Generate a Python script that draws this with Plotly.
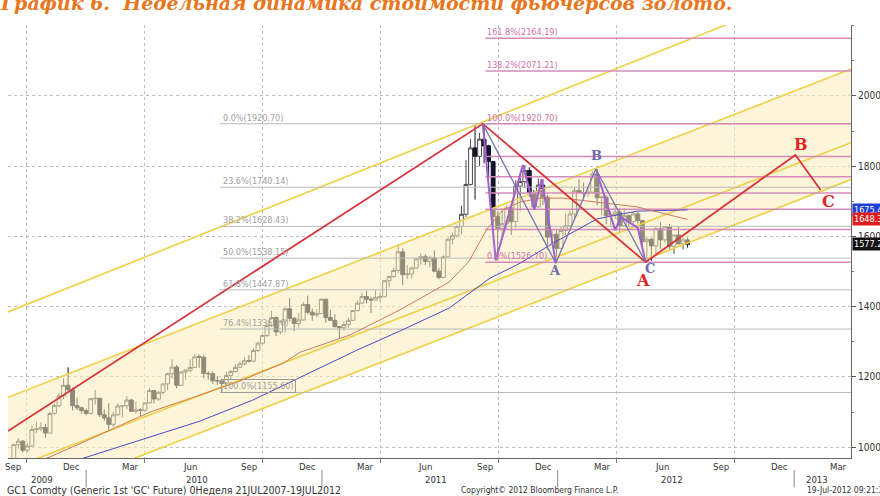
import pandas as pd
import plotly.graph_objects as go

# ---------------- data ----------------
week_dates = pd.date_range('2009-09-11', periods=150, freq='W-FRI')

opens = [955, 1007, 1017, 991, 1003, 1050, 1052, 1056, 1040, 1096, 1118, 1146, 1176, 1163, 1118, 1112, 1104,
         1096, 1138, 1139, 1092, 1083, 1065, 1092, 1117, 1118, 1134, 1102, 1106, 1105, 1126, 1161, 1137, 1156,
         1180, 1209, 1228, 1176, 1214, 1219, 1227, 1257, 1256, 1210, 1209, 1189, 1189, 1181, 1204, 1215, 1227,
         1237, 1246, 1245, 1275, 1296, 1318, 1346, 1369, 1328, 1359, 1394, 1367, 1352, 1362, 1406, 1384, 1376,
         1380, 1421, 1369, 1361, 1343, 1340, 1349, 1361, 1389, 1410, 1429, 1421, 1419, 1427, 1428, 1474, 1486,
         1503, 1556, 1491, 1493, 1510, 1536, 1542, 1529, 1539, 1501, 1483, 1542, 1592, 1602, 1628, 1663, 1748,
         1852, 1828, 1877, 1858, 1813, 1657, 1623, 1636, 1681, 1642, 1743, 1756, 1788, 1725, 1684, 1746, 1712,
         1598, 1606, 1566, 1617, 1630, 1664, 1731, 1725, 1722, 1726, 1778, 1710, 1712, 1659, 1662, 1669, 1630,
         1659, 1642, 1664, 1645, 1585, 1592, 1573, 1622, 1590, 1628, 1572, 1604, 1579, 1590]
highs = [1010, 1025, 1020, 1012, 1062, 1072, 1070, 1066, 1100, 1124, 1153, 1196, 1227, 1170, 1141, 1115, 1110,
         1139, 1163, 1140, 1108, 1125, 1100, 1125, 1119, 1145, 1137, 1130, 1111, 1127, 1168, 1162, 1160, 1180,
         1212, 1250, 1234, 1217, 1221, 1250, 1265, 1263, 1262, 1216, 1215, 1202, 1190, 1215, 1220, 1236, 1244,
         1256, 1262, 1281, 1300, 1321, 1350, 1388, 1372, 1361, 1398, 1424, 1369, 1381, 1414, 1432, 1395, 1392,
         1424, 1423, 1391, 1378, 1345, 1359, 1369, 1390, 1417, 1440, 1445, 1428, 1447, 1440, 1475, 1488, 1511,
         1577, 1566, 1519, 1514, 1539, 1552, 1549, 1545, 1560, 1510, 1546, 1595, 1611, 1633, 1687, 1817, 1877,
         1917, 1895, 1920.7, 1861, 1815, 1671, 1680, 1689, 1686, 1760, 1766, 1803, 1797, 1732, 1765, 1763, 1718,
         1620, 1618, 1628, 1665, 1674, 1740, 1763, 1753, 1744, 1786, 1792, 1716, 1718, 1672, 1687, 1680, 1680,
         1662, 1671, 1670, 1647, 1598, 1596, 1626, 1640, 1628, 1635, 1605, 1628, 1597, 1597]
lows = [950, 995, 985, 985, 1000, 1040, 1045, 1026, 1040, 1091, 1113, 1137, 1160, 1104, 1105, 1095, 1090,
        1093, 1121, 1086, 1075, 1044, 1057, 1088, 1085, 1108, 1101, 1095, 1086, 1102, 1124, 1124, 1132, 1150,
        1162, 1195, 1167, 1175, 1192, 1213, 1225, 1226, 1196, 1192, 1180, 1177, 1155.6, 1175, 1192, 1213, 1225,
        1233, 1241, 1242, 1271, 1291, 1313, 1342, 1316, 1321, 1326, 1358, 1330, 1341, 1360, 1378, 1360, 1370,
        1379, 1354, 1363, 1341, 1309, 1331, 1340, 1359, 1386, 1407, 1409, 1382, 1418, 1413, 1427, 1455, 1482,
        1495, 1462, 1478, 1480, 1507, 1520, 1519, 1512, 1498, 1478, 1480, 1541, 1577, 1597, 1605, 1655, 1745,
        1705, 1800, 1808, 1763, 1626, 1532, 1590, 1617, 1604, 1624, 1672, 1737, 1712, 1676, 1682, 1689, 1562,
        1585, 1523.9, 1565, 1603, 1627, 1653, 1723, 1710, 1713, 1725, 1688, 1660, 1635, 1627, 1650, 1612, 1628,
        1627, 1636, 1636, 1572, 1526.7, 1531, 1546, 1565, 1582, 1562, 1550, 1576, 1563, 1568]
closes = [1007, 1017, 991, 1003, 1050, 1052, 1056, 1040, 1096, 1118, 1146, 1176, 1163, 1118, 1112, 1104, 1096,
          1138, 1139, 1092, 1083, 1065, 1092, 1117, 1118, 1134, 1102, 1106, 1105, 1126, 1161, 1137, 1156, 1180,
          1209, 1228, 1176, 1214, 1219, 1227, 1257, 1256, 1210, 1209, 1189, 1189, 1181, 1204, 1215, 1227, 1237,
          1246, 1245, 1275, 1296, 1318, 1346, 1369, 1328, 1359, 1394, 1367, 1352, 1362, 1406, 1384, 1376, 1380,
          1421, 1369, 1361, 1343, 1340, 1349, 1361, 1389, 1410, 1429, 1421, 1419, 1427, 1428, 1474, 1486, 1503,
          1556, 1491, 1493, 1510, 1536, 1542, 1529, 1539, 1501, 1483, 1542, 1592, 1602, 1628, 1663, 1748, 1852,
          1828, 1877, 1858, 1813, 1657, 1623, 1636, 1681, 1642, 1743, 1756, 1788, 1725, 1684, 1746, 1712, 1598,
          1606, 1566, 1617, 1630, 1664, 1731, 1725, 1722, 1726, 1778, 1710, 1712, 1659, 1662, 1669, 1630, 1659,
          1642, 1664, 1645, 1585, 1592, 1573, 1622, 1590, 1628, 1572, 1604, 1579, 1590, 1577.2]

# moving averages
ma_fast_dates = ['2009-10-18', '2009-11-06', '2010-01-22', '2010-04-10', '2010-06-26', '2010-08-27',
                 '2010-11-02', '2010-11-28', '2011-02-13', '2011-05-01', '2011-07-17', '2011-08-17',
                 '2011-09-13', '2011-10-08', '2011-11-04', '2011-12-05', '2012-01-09', '2012-03-11',
                 '2012-05-03', '2012-07-20']
ma_fast_vals = [960, 972, 1035, 1100, 1148, 1188, 1239, 1270, 1319, 1390, 1470, 1530, 1620, 1675, 1698,
                1709, 1709, 1695, 1684, 1648.3]
ma_slow_dates = ['2009-11-26', '2009-12-18', '2010-04-10', '2010-06-26', '2010-09-16', '2010-11-28',
                 '2011-02-24', '2011-05-01', '2011-07-17', '2011-09-18', '2011-11-04', '2011-12-25',
                 '2012-03-02', '2012-05-03', '2012-07-20']
ma_slow_vals = [950, 963, 1028, 1074, 1134, 1199, 1276, 1330, 1396, 1481, 1524, 1581, 1650, 1672, 1675.4]

# channel lines (start / end of visible range)
chan_dates = ['2009-09-02', '2013-03-30']
chan_top = [1385, 2345]
band_top = [1142, 2077]
band_bottom = [935, 1867]
chan_low = [828, 1762]

# red wave projection
red_dates = ['2009-09-02', '2011-09-07', '2012-05-16', '2013-01-03', '2013-02-11']
red_vals = [1046, 1920.7, 1526.7, 1832, 1732]

# A-B-C swing lines
abc_dates = ['2011-09-07', '2011-12-29', '2012-02-29', '2012-05-16']
abc_vals = [1920.7, 1523.9, 1792, 1526.7]
zig1_dates = ['2011-09-07', '2011-09-27', '2011-11-08', '2011-11-26', '2011-12-07', '2011-12-29']
zig1_vals = [1920.7, 1532, 1803, 1676, 1763, 1523.9]
zig2_dates = ['2012-02-29', '2012-03-30', '2012-04-08', '2012-05-04', '2012-05-16']
zig2_vals = [1792, 1618, 1655, 1624, 1526.7]

# Fibonacci retracements
fib1_start = '2010-07-27'
fib1_levels = [1920.70, 1740.14, 1628.43, 1538.15, 1447.87, 1336.16, 1155.60]
fib1_labels = ['0.0%(1920.70)', '23.6%(1740.14)', '38.2%(1628.43)', '50.0%(1538.15)',
               '61.8%(1447.87)', '76.4%(1336.16)', '100.0%(1155.60)']
fib2_start = '2011-09-11'
fib2_levels = [2164.19, 2071.21, 1920.70, 1827.68, 1770.19, 1723.70, 1677.21, 1619.68, 1526.70]
fib2_labels = ['161.8%(2164.19)', '138.2%(2071.21)', '100.0%(1920.70)', '', '', '', '', '', '0.0%(1526.70)']

# wave letters
red_letter_text = ['A', 'B', 'C']
red_letter_dates = ['2012-05-12', '2013-01-11', '2013-02-23']
red_letter_vals = [1474, 1862, 1700]
blue_letter_text = ['A', 'B', 'C']
blue_letter_dates = ['2011-12-28', '2012-03-01', '2012-05-23']
blue_letter_vals = [1502, 1830, 1508]

# last value tags
tag_vals = [1675.4, 1648.3, 1577.2]
tag_colors = ['#1f3fd8', '#e01e1e', '#111111']

# axis labels
month_tick_dates = ['2009-09-10', '2009-12-10', '2010-03-10', '2010-06-10', '2010-09-10', '2010-12-10',
                    '2011-03-10', '2011-06-10', '2011-09-10', '2011-12-10', '2012-03-10', '2012-06-10',
                    '2012-09-10', '2012-12-10', '2013-03-10']
month_tick_text = ['Sep', 'Dec', 'Mar', 'Jun', 'Sep', 'Dec', 'Mar', 'Jun', 'Sep', 'Dec', 'Mar', 'Jun',
                   'Sep', 'Dec', 'Mar']
year_text = ['2009', '2010', '2011', '2012', '2013']
year_label_dates = ['2009-10-25', '2010-06-21', '2011-06-27', '2012-06-26', '2013-02-05']
year_sep_dates = ['2010-01-01', '2011-01-01', '2012-01-01', '2013-01-01']
price_ticks = [1000, 1200, 1400, 1600, 1800, 2000]

X_RANGE = ['2009-09-02', '2013-03-30']
Y_RANGE = [969, 2202]

NARROW = 'Liberation Sans Narrow, DejaVu Sans Condensed, Arial Narrow, sans-serif'
FILL = 'rgba(250,236,185,0.55)'
YELLOW = '#efd046'
RED = '#d8343a'

fig = go.Figure()

# channel fills
fig.add_trace(go.Scatter(x=chan_dates, y=chan_low, mode='lines', line=dict(color=YELLOW, width=1.6),
                         hoverinfo='skip', showlegend=False))
fig.add_trace(go.Scatter(x=chan_dates, y=band_bottom, mode='lines', line=dict(color=YELLOW, width=1.6),
                         fill='tonexty', fillcolor=FILL, hoverinfo='skip', showlegend=False))
fig.add_trace(go.Scatter(x=chan_dates, y=band_top, mode='lines', line=dict(color=YELLOW, width=1.6),
                         fill='tonexty', fillcolor=FILL, hoverinfo='skip', showlegend=False))
fig.add_trace(go.Scatter(x=chan_dates, y=chan_top, mode='lines', line=dict(color=YELLOW, width=1.6),
                         hoverinfo='skip', showlegend=False))

# Fibonacci lines
for lv in fib1_levels:
    fig.add_trace(go.Scatter(x=[fib1_start, X_RANGE[1]], y=[lv, lv], mode='lines',
                             line=dict(color='#b9b9b9', width=1), hoverinfo='skip', showlegend=False))
for lv in fib2_levels:
    fig.add_trace(go.Scatter(x=[fib2_start, X_RANGE[1]], y=[lv, lv], mode='lines',
                             line=dict(color='#d58cbc', width=1.5), hoverinfo='skip', showlegend=False))

# moving averages
fig.add_trace(go.Scatter(x=ma_slow_dates, y=ma_slow_vals, mode='lines', line=dict(color='#4b4bc4', width=1),
                         hoverinfo='skip', showlegend=False))
fig.add_trace(go.Scatter(x=ma_fast_dates, y=ma_fast_vals, mode='lines', line=dict(color='#d07a5a', width=1),
                         hoverinfo='skip', showlegend=False))

# red projection
fig.add_trace(go.Scatter(x=red_dates, y=red_vals, mode='lines', line=dict(color=RED, width=1.8),
                         hoverinfo='skip', showlegend=False))

# candles
fig.add_trace(go.Candlestick(x=week_dates, open=opens, high=highs, low=lows, close=closes,
                             increasing=dict(line=dict(color='#4a4a4a', width=1), fillcolor='#ffffff'),
                             decreasing=dict(line=dict(color='#121228', width=1), fillcolor='#121228'),
                             whiskerwidth=0, showlegend=False, hoverinfo='skip'))

# swing lines
fig.add_trace(go.Scatter(x=zig1_dates, y=zig1_vals, mode='lines', line=dict(color='#a45fd0', width=2),
                         hoverinfo='skip', showlegend=False))
fig.add_trace(go.Scatter(x=zig2_dates, y=zig2_vals, mode='lines', line=dict(color='#a45fd0', width=2),
                         hoverinfo='skip', showlegend=False))
fig.add_trace(go.Scatter(x=abc_dates, y=abc_vals, mode='lines', line=dict(color='#7474b4', width=1.3),
                         hoverinfo='skip', showlegend=False))

ann = []
# fib labels
for lv, t in zip(fib1_levels, fib1_labels):
    box = dict(bordercolor='#9a9a9a', borderwidth=1) if t.startswith('100.0') else {}
    ann.append(dict(x=fib1_start, y=lv, xref='x', yref='y', text=t, showarrow=False, xanchor='left',
                    yanchor='bottom', xshift=1, yshift=-1, font=dict(family=NARROW, size=9, color='#a0a0a0'),
                    **box))
for lv, t in zip(fib2_levels, fib2_labels):
    if t:
        ann.append(dict(x=fib2_start, y=lv, xref='x', yref='y', text=t, showarrow=False, xanchor='left',
                        yanchor='bottom', xshift=0, yshift=-1, font=dict(family=NARROW, size=9, color='#d070a8')))
# letters
for t, d, v in zip(red_letter_text, red_letter_dates, red_letter_vals):
    ann.append(dict(x=d, y=v, xref='x', yref='y', text='<b>' + t + '</b>', showarrow=False,
                    font=dict(family='DejaVu Serif', size=16, color='#e0241e')))
for t, d, v in zip(blue_letter_text, blue_letter_dates, blue_letter_vals):
    ann.append(dict(x=d, y=v, xref='x', yref='y', text='<b>' + t + '</b>', showarrow=False,
                    font=dict(family='DejaVu Serif', size=13, color='#6a6aac')))
# value tags
for v, c in zip(tag_vals, tag_colors):
    ann.append(dict(x=1, y=v, xref='paper', yref='y', text='%.1f' % v, showarrow=False, xanchor='left',
                    xshift=1, bgcolor=c, borderpad=1, font=dict(family=NARROW, size=9, color='#ffffff')))
# month and year labels
for t, d in zip(month_tick_text, month_tick_dates):
    ann.append(dict(x=d, y=-0.019, xref='x', yref='paper', text=t, showarrow=False, yanchor='middle',
                    font=dict(family=NARROW, size=9.5, color='#333333')))
for t, d in zip(year_text, year_label_dates):
    ann.append(dict(x=d, y=-0.05, xref='x', yref='paper', text=t, showarrow=False, yanchor='middle',
                    font=dict(family=NARROW, size=9.5, color='#333333')))
# footer
ann.append(dict(x=-0.004, y=-0.074, xref='paper', yref='paper', xanchor='left', yanchor='middle', showarrow=False,
                text="GC1 Comdty (Generic 1st 'GC' Future) 0Неделя 21JUL2007-19JUL2012",
                font=dict(family=NARROW, size=10.5, color='#333333')))
ann.append(dict(x=0.631, y=-0.074, xref='paper', yref='paper', yanchor='middle', showarrow=False,
                text='Copyright© 2012 Bloomberg Finance L.P.',
                font=dict(family=NARROW, size=8.5, color='#333333')))
ann.append(dict(x=0.946, y=-0.074, xref='paper', yref='paper', xanchor='left', yanchor='middle', showarrow=False,
                text='19-Jul-2012 09:21:37', font=dict(family=NARROW, size=8.5, color='#333333')))
# title (cut by the top edge, as in the source)
ann.append(dict(x=-0.004, y=1.051, xref='paper', yref='paper', xanchor='left', yanchor='middle', showarrow=False,
                xshift=-7,
                text='<b><i>График 6.  Недельная динамика стоимости фьючерсов золото.</i></b>',
                font=dict(family='DejaVu Serif', size=19, color='#e8761c')))

shapes = []
for d in year_sep_dates:
    shapes.append(dict(type='line', xref='x', yref='paper', x0=d, x1=d, y0=-0.028, y1=-0.068,
                       line=dict(color='#888888', width=1)))

fig.update_layout(
    width=880, height=496, autosize=False,
    margin=dict(l=8, r=29, t=25, b=38, autoexpand=False),
    paper_bgcolor='white', plot_bgcolor='white',
    showlegend=False, boxgap=0.15, boxgroupgap=0,
    annotations=ann, shapes=shapes,
    xaxis=dict(type='date', range=X_RANGE, rangeslider=dict(visible=False), automargin=False,
               showticklabels=False, ticks='', showgrid=False,
               showline=True, linecolor='#666666', linewidth=1,
               minor=dict(dtick='M3', tick0='2009-10-01', showgrid=True, griddash='dot',
                          gridcolor='#bdbdbd', gridwidth=1, ticks='outside', ticklen=4, tickcolor='#777777'),
               zeroline=False, fixedrange=True),
    yaxis=dict(range=Y_RANGE, side='right', tickmode='array', tickvals=price_ticks, automargin=False,
               ticks='outside', ticklen=4, tickcolor='#555555', showline=True, linecolor='#666666',
               showgrid=True, griddash='dot', gridcolor='#bdbdbd', gridwidth=1,
               minor=dict(dtick=100, tick0=1000, ticks='outside', ticklen=2, tickcolor='#777777', showgrid=False),
               tickfont=dict(family=NARROW, size=10, color='#333333'), zeroline=False, fixedrange=True),
)

fig.write_html('out.html', config={'responsive': False, 'displayModeBar': False},
               post_script="document.body.style.margin='0px';document.body.style.overflow='hidden';"
                           "Plotly.Plots.resize(document.getElementById('{plot_id}'));")
